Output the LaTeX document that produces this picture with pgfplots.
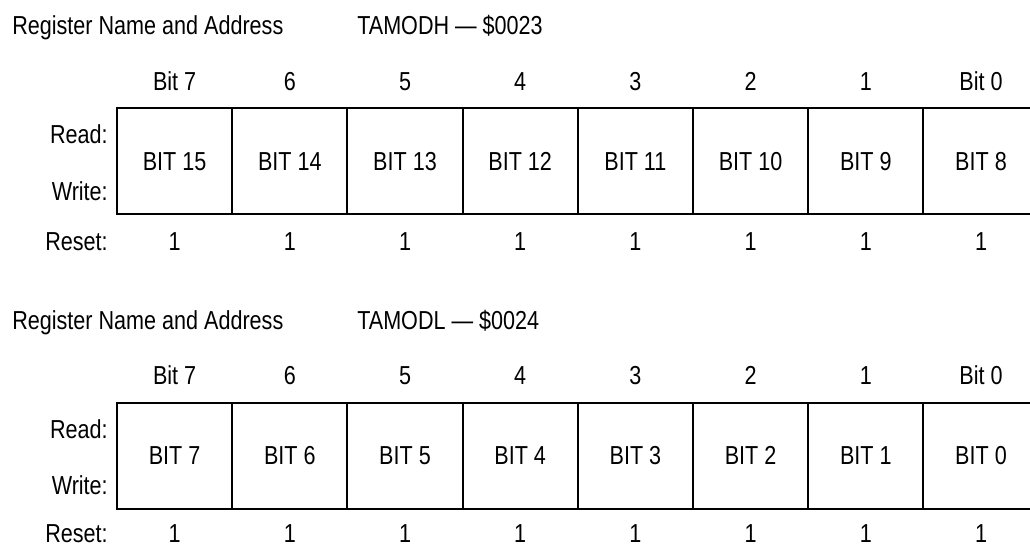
\documentclass[border=0pt]{standalone}
\usepackage{fontspec}
\setmainfont[FakeStretch=0.83]{Liberation Sans}
\usepackage{pgfplots}
\pgfplotsset{compat=1.18}
\begin{document}
\begin{tikzpicture}
\begin{axis}[name=ax,
  width=772.5pt, height=409.5pt, scale only axis,
  xmin=0, xmax=1030, ymin=0, ymax=546, y dir=reverse,
  hide axis, clip=false,
  unbounded coords=jump,
  every node near coord/.append style={font=\fontsize{19.5}{22}\selectfont, inner sep=0pt, text=black},
]
% boxes
\addplot[black, line width=1.5pt, line join=miter, mark=none] coordinates {
 (1030,108) (117,108) (117,214) (1030,214) (nan,nan)
 (1030,402.7) (117,402.7) (117,508.7) (1030,508.7)
};
\addplot[black, line width=1.5pt, mark=none] coordinates {
 (232.2,108) (232.2,214) (nan,nan) (347.4,108) (347.4,214) (nan,nan)
 (462.6,108) (462.6,214) (nan,nan) (577.8,108) (577.8,214) (nan,nan)
 (693,108) (693,214) (nan,nan) (808.2,108) (808.2,214) (nan,nan)
 (923.4,108) (923.4,214) (nan,nan)
 (232.2,402.7) (232.2,508.7) (nan,nan) (347.4,402.7) (347.4,508.7) (nan,nan)
 (462.6,402.7) (462.6,508.7) (nan,nan) (577.8,402.7) (577.8,508.7) (nan,nan)
 (693,402.7) (693,508.7) (nan,nan) (808.2,402.7) (808.2,508.7) (nan,nan)
 (923.4,402.7) (923.4,508.7)
};
% titles (left aligned)
\addplot[draw=none, mark=none, point meta=explicit symbolic, nodes near coords,
  every node near coord/.append style={anchor=base west}] coordinates {
 (12,34.3) [Register Name and Address]
 (357,34.3) [TAMODH \textemdash{} \$0023]
 (12,329) [Register Name and Address]
 (357,329) [TAMODL \textemdash{} \$0024]
};
% row labels (right aligned)
\addplot[draw=none, mark=none, point meta=explicit symbolic, nodes near coords,
  every node near coord/.append style={anchor=base east}] coordinates {
 (108,143.3) [Read:] (108,200) [Write:] (108,250) [Reset:]
 (108,438) [Read:] (108,494.7) [Write:] (108,542.5) [Reset:]
};
% centred labels
\addplot[draw=none, mark=none, point meta=explicit symbolic, nodes near coords,
  every node near coord/.append style={anchor=base}] coordinates {
 (174.6,90) [Bit 7] (289.8,90) [6] (405,90) [5] (520.2,90) [4]
 (635.4,90) [3] (750.6,90) [2] (865.8,90) [1] (981,90) [Bit 0]
 (174.6,170) [BIT 15] (289.8,170) [BIT 14] (405,170) [BIT 13] (520.2,170) [BIT 12]
 (635.4,170) [BIT 11] (750.6,170) [BIT 10] (865.8,170) [BIT 9] (981,170) [BIT 8]
 (174.6,250) [1] (289.8,250) [1] (405,250) [1] (520.2,250) [1]
 (635.4,250) [1] (750.6,250) [1] (865.8,250) [1] (981,250) [1]
 (174.6,384.7) [Bit 7] (289.8,384.7) [6] (405,384.7) [5] (520.2,384.7) [4]
 (635.4,384.7) [3] (750.6,384.7) [2] (865.8,384.7) [1] (981,384.7) [Bit 0]
 (174.6,464.7) [BIT 7] (289.8,464.7) [BIT 6] (405,464.7) [BIT 5] (520.2,464.7) [BIT 4]
 (635.4,464.7) [BIT 3] (750.6,464.7) [BIT 2] (865.8,464.7) [BIT 1] (981,464.7) [BIT 0]
 (174.6,542.5) [1] (289.8,542.5) [1] (405,542.5) [1] (520.2,542.5) [1]
 (635.4,542.5) [1] (750.6,542.5) [1] (865.8,542.5) [1] (981,542.5) [1]
};
\end{axis}
\pgfresetboundingbox
\useasboundingbox (ax.south west) rectangle (ax.north east);
\end{tikzpicture}
\end{document}
